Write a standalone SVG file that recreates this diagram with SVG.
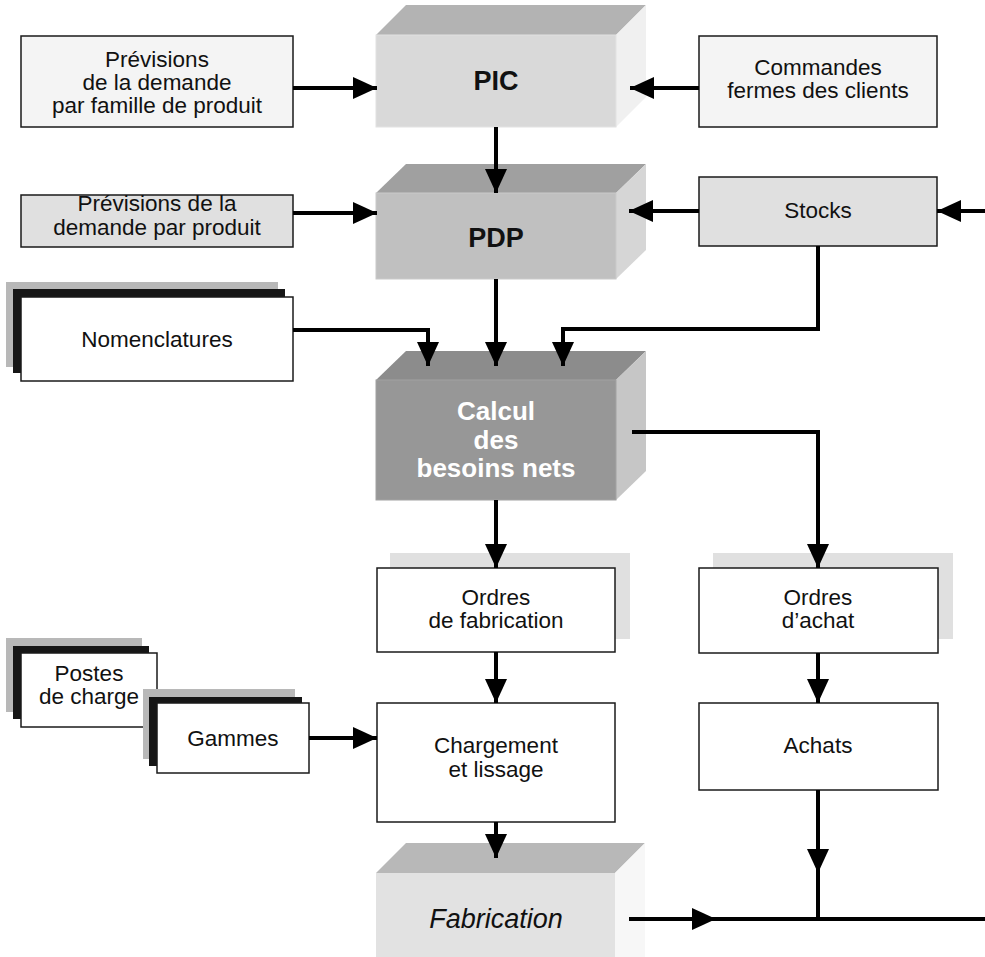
<svg xmlns="http://www.w3.org/2000/svg" width="985" height="957" viewBox="0 0 985 957">
<defs>
<marker id="ah" markerUnits="userSpaceOnUse" markerWidth="24" markerHeight="22" refX="24" refY="11" orient="auto" viewBox="0 0 24 22">
<path d="M0,0 L24,11 L0,22 z" fill="#000"/>
</marker>
</defs>
<style>
text{font-family:"Liberation Sans",Arial,sans-serif;font-size:22.5px;fill:#111;text-anchor:middle;dominant-baseline:central}
.box{stroke:#1a1a1a;stroke-width:1.5}
.b{font-weight:bold;font-size:27px}
.c{font-weight:bold;font-size:26px;fill:#fff}
.it{font-style:italic;font-size:27px}
.ln{fill:none;stroke:#000;stroke-width:4}
.ar{fill:none;stroke:#000;stroke-width:4;marker-end:url(#ah)}
</style>
<rect width="985" height="957" fill="#fff"/>

<g id="prev-famille">
<rect class="box" x="21" y="36" width="272" height="91" fill="#f4f4f4"/>
<text x="157" y="59">Prévisions</text>
<text x="157" y="82">de la demande</text>
<text x="157" y="105">par famille de produit</text>
</g>

<g id="pic">
<polygon points="376,35 406,5 646,5 616,35" fill="#b3b3b3"/>
<polygon points="616,35 646,5 646,97 616,127" fill="#f0f0f0"/>
<rect x="376" y="35" width="240" height="92" fill="#d9d9d9" stroke="#e2e2e2" stroke-width="1"/>
<text class="b" x="496" y="81">PIC</text>
</g>

<g id="commandes">
<rect class="box" x="699" y="36" width="238" height="91" fill="#f4f4f4"/>
<text x="818" y="67">Commandes</text>
<text x="818" y="90">fermes des clients</text>
</g>

<g id="prev-produit">
<rect class="box" x="21" y="195" width="272" height="52" fill="#e0e0e0"/>
<text x="157" y="203" font-size="22px">Prévisions de la</text>
<text x="157" y="227" font-size="22px">demande par produit</text>
</g>

<g id="pdp">
<polygon points="376,193 406,164 646,164 616,193" fill="#a0a0a0"/>
<polygon points="616,193 646,164 646,250 616,279" fill="#d6d6d6"/>
<rect x="376" y="193" width="240" height="86" fill="#c0c0c0" stroke="#cacaca" stroke-width="1"/>
<text class="b" x="496" y="238">PDP</text>
</g>

<g id="stocks">
<rect class="box" x="699" y="177" width="238" height="69" fill="#e0e0e0"/>
<text x="818" y="210">Stocks</text>
</g>

<g id="nomenclatures">
<rect x="6" y="282" width="272" height="85" fill="#b8b8b8"/>
<rect x="13" y="289" width="272" height="84" fill="#161616"/>
<rect class="box" x="21" y="297" width="272" height="84" fill="#fff"/>
<text x="157" y="339">Nomenclatures</text>
</g>

<g id="calcul">
<polygon points="376,380 406,351 646,351 616,380" fill="#8c8c8c"/>
<polygon points="616,380 646,351 646,471 616,500" fill="#c6c6c6"/>
<rect x="376" y="380" width="240" height="120" fill="#979797" stroke="#a2a2a2" stroke-width="1"/>
<text class="c" x="496" y="411">Calcul</text>
<text class="c" x="496" y="440">des</text>
<text class="c" x="496" y="468">besoins nets</text>
</g>

<g id="ordres-fab">
<rect x="390" y="553" width="240" height="86" fill="#e0e0e0"/>
<rect class="box" x="377" y="568" width="238" height="84" fill="#fff"/>
<text x="496" y="597">Ordres</text>
<text x="496" y="620">de fabrication</text>
</g>

<g id="ordres-achat">
<rect x="713" y="553" width="240" height="86" fill="#e0e0e0"/>
<rect class="box" x="699" y="568" width="239" height="85" fill="#fff"/>
<text x="818" y="597">Ordres</text>
<text x="818" y="620">d’achat</text>
</g>

<g id="postes">
<rect x="6" y="638" width="136" height="74" fill="#b8b8b8"/>
<rect x="13" y="646" width="136" height="73" fill="#161616"/>
<rect class="box" x="21" y="653" width="136" height="74" fill="#fff"/>
<text x="89" y="673">Postes</text>
<text x="89" y="696">de charge</text>
</g>

<g id="gammes">
<rect x="143" y="689" width="152" height="70" fill="#b8b8b8"/>
<rect x="149" y="697" width="153" height="69" fill="#161616"/>
<rect class="box" x="157" y="703" width="152" height="70" fill="#fff"/>
<text x="233" y="738">Gammes</text>
</g>

<g id="chargement">
<rect class="box" x="377" y="703" width="238" height="119" fill="#fff"/>
<text x="496" y="745">Chargement</text>
<text x="496" y="769">et lissage</text>
</g>

<g id="achats">
<rect class="box" x="699" y="703" width="239" height="87" fill="#fff"/>
<text x="818" y="745">Achats</text>
</g>

<g id="fabrication">
<polygon points="376,873 406,843 645,843 615,873" fill="#b8b8b8"/>
<polygon points="615,873 645,843 645,957 615,957" fill="#f7f7f7"/>
<rect x="376" y="873" width="239" height="90" fill="#e2e2e2"/>
<text class="it" x="496" y="919">Fabrication</text>
</g>

<g id="connectors">
<line class="ar" x1="293" y1="88" x2="377" y2="88"/>
<line class="ar" x1="699" y1="88" x2="630" y2="88"/>
<line class="ar" x1="496" y1="127" x2="496" y2="193"/>
<line class="ar" x1="293" y1="213" x2="377" y2="213"/>
<line class="ar" x1="699" y1="211" x2="629" y2="211"/>
<line class="ar" x1="985" y1="211" x2="937" y2="211"/>
<polyline class="ar" points="293,330 428,330 428,366"/>
<line class="ar" x1="496" y1="279" x2="496" y2="366"/>
<polyline class="ar" points="818,246 818,329 563,329 563,366"/>
<polyline class="ar" points="632,432 818,432 818,568"/>
<line class="ar" x1="496" y1="500" x2="496" y2="568"/>
<line class="ar" x1="818" y1="653" x2="818" y2="703"/>
<line class="ar" x1="496" y1="652" x2="496" y2="703"/>
<line class="ar" x1="309" y1="738" x2="377" y2="738"/>
<line class="ar" x1="496" y1="822" x2="496" y2="858"/>
<line class="ar" x1="818" y1="790" x2="818" y2="873"/>
<line class="ln" x1="818" y1="870" x2="818" y2="919"/>
<line class="ar" x1="629" y1="919" x2="716" y2="919"/>
<line class="ln" x1="712" y1="919" x2="985" y2="919"/>
</g>
</svg>
